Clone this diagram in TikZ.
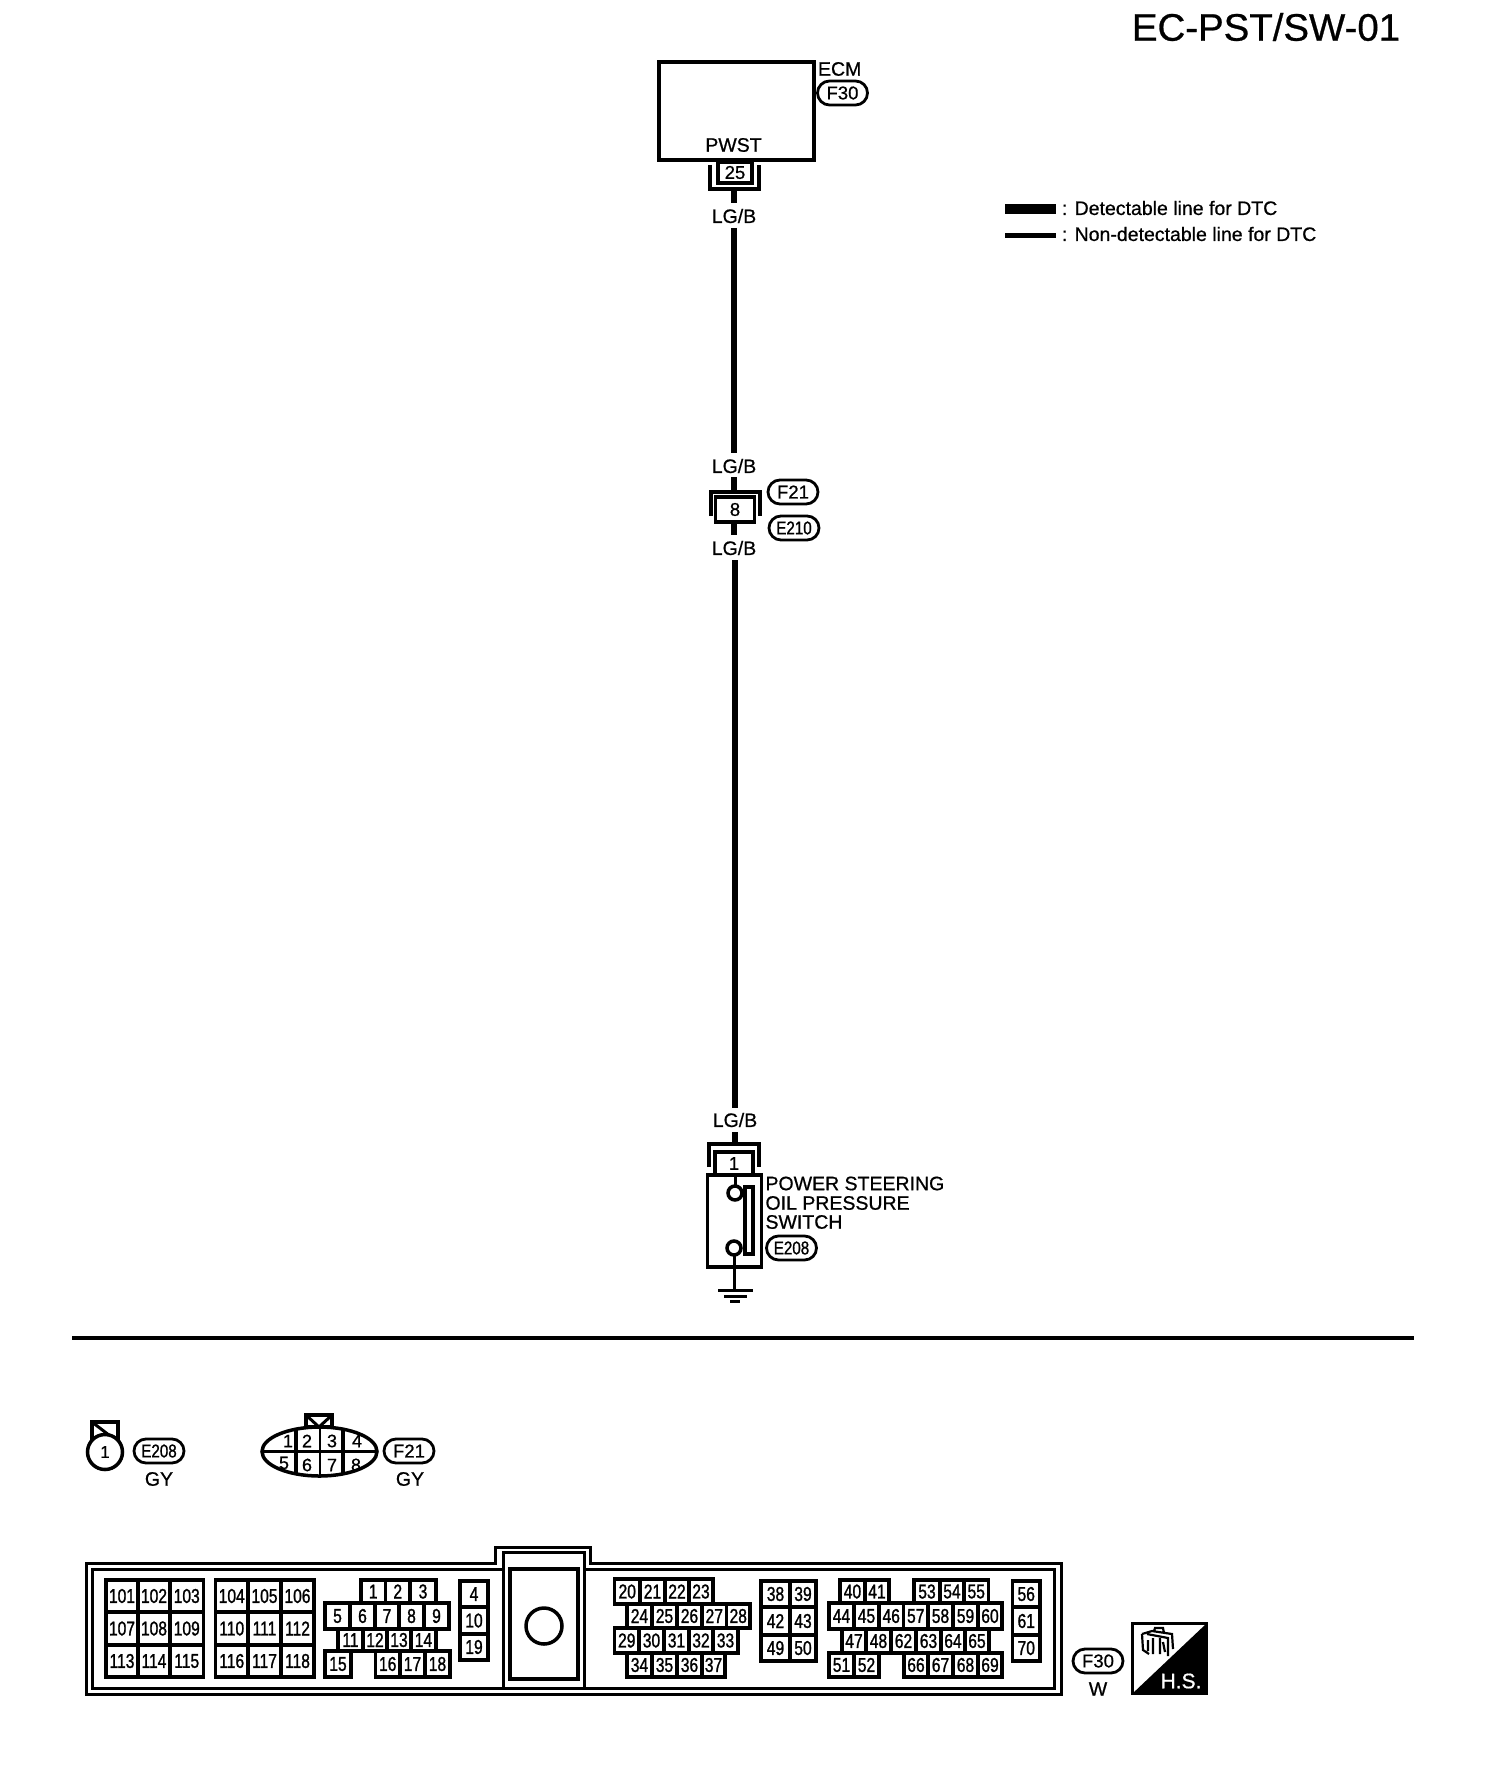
\documentclass[tikz,border=0pt]{standalone}
\usepackage{fontspec}
\usetikzlibrary{shapes.geometric}
\setmainfont{Liberation Sans}
\newfontfamily\pinfont[FakeStretch=0.78,FakeBold=1.2]{Liberation Sans}
\newfontfamily\labfont[FakeBold=0.7]{Liberation Sans}
\newfontfamily\narfont[FakeStretch=0.82,FakeBold=1]{Liberation Sans}
\newcommand{\fpx}[1]{\fontsize{\dimexpr#1pt/2\relax}{\dimexpr#1pt/2\relax}\selectfont}
\tikzset{
  lab/.style={inner sep=0pt,outer sep=0pt,font=\labfont\fpx{19.5}},
  leftlab/.style={lab,anchor=west},
  pill/.style={draw,line width=1.4pt,rounded corners=6pt,minimum width=25pt,minimum height=12pt,inner sep=0pt,outer sep=0pt,font=\labfont\fpx{18.5}},
  pillnar/.style={pill,font=\narfont\fpx{18.5}},
  pinbox/.style={draw,line width=1.75pt,inner sep=0pt,outer sep=0pt,font=\pinfont\fpx{20}},
  bigpin/.style={pinbox,font=\labfont\fpx{18.5}},
  wire/.style={line width=3pt},
  line/.style={line width=1.5pt},
  heavy/.style={line width=1.75pt},
  plainnum/.style={inner sep=0pt,outer sep=0pt,font=\labfont\fpx{18}}
}
\newcommand{\pinrow}[3]{%
  \foreach \xa/\xb/\t in {#3}{
    \node[pinbox,minimum width={(\xb-\xa)*0.5pt},minimum height={(#2-#1)*0.5pt}] (ecu\t) at ({(\xa+\xb)/2},{(#1+#2)/2}) {\t};
  }}
\begin{document}
\begin{tikzpicture}[x=0.5pt,y=-0.5pt]
\useasboundingbox (0,0) rectangle (1504,1770);
% title and legend
\node[inner sep=0pt,font=\labfont\fpx{38.4}] (title) at (1266,27) {EC-PST/SW-01};
\coordinate (legAa) at (1005,209.5); \coordinate (legAb) at (1056,209.5);
\coordinate (legBa) at (1005,235.5); \coordinate (legBb) at (1056,235.5);
\draw[line width=5pt] (legAa) -- (legAb);
\draw[line width=2.5pt] (legBa) -- (legBb);
\node[leftlab] (legAt) at (1062,208) {: Detectable line for DTC};
\node[leftlab] (legBt) at (1062,234) {: Non-detectable line for DTC};
% ECM
\node[draw,heavy,minimum width=77.5pt,minimum height=49pt,inner sep=0pt,outer sep=0pt] (ecm) at (736.5,111) {};
\node[leftlab] (ecmt) at (818,69) {ECM};
\node[pill] (f30a) at (842.5,93) {F30};
\node[lab] (pwst) at (733.5,145) {PWST};
\node[bigpin,minimum width=17pt,minimum height=10.5pt] (p25) at (735,172.5) {25};
\coordinate (b25a) at (710,165); \coordinate (b25b) at (710,189); \coordinate (b25c) at (759,189); \coordinate (b25d) at (759,165);
\draw[heavy] (b25a) -- (b25b) -- (b25c) -- (b25d);
\coordinate (w25) at (734,189);
\node[lab] (lg1) at (734,216) {LG/B};
\draw[wire] (w25) -- ++(0,14);
\coordinate (w1a) at (734,228); \coordinate (w1b) at (734,453);
\draw[wire] (w1a) -- (w1b);
% joint 8
\node[lab] (lg2) at (734,466) {LG/B};
\node[bigpin,minimum width=19.5pt,minimum height=12.5pt] (p8) at (735,509.5) {8};
\coordinate (b8a) at (711,516); \coordinate (b8b) at (711,492); \coordinate (b8c) at (760,492); \coordinate (b8d) at (760,516);
\draw[heavy] (b8a) -- (b8b) -- (b8c) -- (b8d);
\coordinate (w8t) at (734,477); \coordinate (w8b) at (734,492);
\draw[wire] (w8t) -- (w8b);
\draw[wire] (p8.south -| w8t) -- ++(0,13);
\node[pill] (f21a) at (793,492) {F21};
\node[pillnar] (e210) at (794,528) {E210};
\node[lab] (lg3) at (734,548) {LG/B};
\coordinate (w2a) at (735,560); \coordinate (w2b) at (735,1108);
\draw[wire] (w2a) -- (w2b);
% switch
\node[lab] (lg4) at (735,1120) {LG/B};
\coordinate (w3a) at (735,1132); \coordinate (w3b) at (735,1144);
\draw[wire] (w3a) -- (w3b);
\coordinate (b1a) at (709,1167); \coordinate (b1b) at (709,1144); \coordinate (b1c) at (759,1144); \coordinate (b1d) at (759,1167);
\draw[heavy] (b1a) -- (b1b) -- (b1c) -- (b1d);
\node[bigpin,minimum width=19pt,minimum height=11.5pt] (p1) at (734,1163.5) {1};
\node[draw,heavy,minimum width=27pt,minimum height=46pt,inner sep=0pt,outer sep=0pt] (sw) at (734.5,1221) {};
\node[draw,heavy,circle,minimum size=7pt,inner sep=0pt,outer sep=0pt] (c1) at (735,1193) {};
\node[draw,heavy,circle,minimum size=7pt,inner sep=0pt,outer sep=0pt] (c2) at (734,1248) {};
\node[draw,heavy,minimum width=4pt,minimum height=33.5pt,inner sep=0pt,outer sep=0pt] (bar) at (749,1220.5) {};
\draw[line] (sw.north -| c1) -- (c1);
\coordinate (gnd) at (734,1290);
\draw[line] (c2) -- (gnd);
\coordinate (g1a) at (718,1290); \coordinate (g1b) at (753,1290);
\coordinate (g2a) at (724,1296); \coordinate (g2b) at (747,1296);
\coordinate (g3a) at (730,1301.5); \coordinate (g3b) at (740,1301.5);
\draw[line] (g1a) -- (g1b); \draw[line] (g2a) -- (g2b); \draw[line] (g3a) -- (g3b);
\node[leftlab] (sw1) at (765.5,1183.5) {POWER STEERING};
\node[leftlab] (sw2) at (765.5,1203) {OIL PRESSURE};
\node[leftlab] (sw3) at (765.5,1222) {SWITCH};
\node[pillnar] (e208a) at (791.5,1248) {E208};
% divider
\coordinate (da) at (72,1338); \coordinate (db) at (1414,1338);
\draw[heavy] (da) -- (db);
% E208 face
\node[draw,heavy,minimum width=13pt,minimum height=10pt,inner sep=0pt,outer sep=0pt] (tab1) at (105,1432) {};
\draw[line] (tab1.north west) -- (tab1.south east);
\node[draw,heavy,circle,fill=white,minimum size=17.5pt,inner sep=0pt,outer sep=0pt,font=\labfont\fpx{17}] (fc1) at (105,1452) {1};
\node[pillnar] (e208b) at (159,1451) {E208};
\node[lab] (gy1) at (159,1479) {GY};
% F21 face
\node[draw,heavy,minimum width=13pt,minimum height=6pt,inner sep=0pt,outer sep=0pt] (tab2) at (319,1421) {};
\coordinate (vm) at (319,1427);
\draw[line] (tab2.north west) -- (vm) -- (tab2.north east);
\node[draw,heavy,ellipse,fill=white,minimum width=57.5pt,minimum height=24.5pt,inner sep=0pt,outer sep=0pt] (fc8) at (319.5,1451.5) {};
\draw[line] (fc8.west) -- (fc8.east);
\foreach \xx in {296,343}{ \draw[heavy] (\xx,1428) -- (\xx,1475); }
\draw[line width=0.75pt] (320,1428) -- (320,1475);
\foreach \xx/\yy/\t in {288/1441/1,307/1441/2,332/1441/3,357/1441/4,284/1463/5,307/1465/6,332/1465/7,356/1465/8}{
  \node[plainnum] (fp\t) at (\xx,\yy) {\t};
}
\node[pill] (f21b) at (409,1451) {F21};
\node[lab] (gy2) at (410,1479) {GY};
% ECM connector housing
\draw[line] (86,1563) -- (495,1563) -- (495,1547) -- (590,1547) -- (590,1563) -- (1061,1563) -- (1061,1694) -- (86,1694) -- cycle;
\draw[line] (92,1569) -- (503,1569) -- (503,1552) -- (584,1552) -- (584,1569) -- (1054,1569) -- (1054,1688) -- (92,1688) -- cycle;
\draw[line] (503,1569) -- (503,1688);
\draw[line] (584,1569) -- (584,1688);
\node[draw,heavy,minimum width=34pt,minimum height=55pt,inner sep=0pt,outer sep=0pt] (lockbox) at (544,1624) {};
\node[draw,heavy,circle,minimum size=18pt,inner sep=0pt,outer sep=0pt] (lockc) at (544,1626) {};
% pins
\pinrow{1580}{1612}{106/138/101,138/170/102,170/203.5/103}
\pinrow{1612}{1645}{106/138/107,138/170/108,170/203.5/109}
\pinrow{1645}{1677}{106/138/113,138/170/114,170/203.5/115}
\pinrow{1580}{1612}{215.5/248/104,248/281/105,281/314/106}
\pinrow{1612}{1645}{215.5/248/110,248/281/111,281/314/112}
\pinrow{1645}{1677}{215.5/248/116,248/281/117,281/314/118}
\pinrow{1580}{1603}{361/385.5/1,385.5/410/2,410/436/3}
\pinrow{1603}{1629}{325/350/5,350/375/6,375/399/7,399/424/8,424/449/9}
\pinrow{1629}{1651}{338/363/11,363/387/12,387/411/13,411/436/14}
\pinrow{1651}{1677}{325/351/15,375.5/400/16,400/425/17,425/450/18}
\pinrow{1581}{1607}{460/488/4}
\pinrow{1607}{1634}{460/488/10}
\pinrow{1634}{1660}{460/488/19}
\pinrow{1579}{1604}{614.5/640/20,640/665/21,665/689/22,689/713/23}
\pinrow{1604}{1628}{627/652/24,652/677/25,677/702/26,702/726.5/27,726.5/750/28}
\pinrow{1628}{1653}{614.5/639/29,639/664/30,664/689/31,689/713/32,713/738/33}
\pinrow{1653}{1677}{627/652/34,652/677/35,677/702/36,702/725/37}
\pinrow{1581}{1607}{761/790/38,790/816/39}
\pinrow{1607}{1635}{761/790/42,790/816/43}
\pinrow{1635}{1661}{761/790/49,790/816/50}
\pinrow{1580}{1603}{840/865/40,865/889/41,914/940/53,940/964/54,964/988.5/55}
\pinrow{1603}{1629}{829/854/44,854/879/45,879/903.5/46,903.5/928/57,928/953/58,953/978/59,978/1002/60}
\pinrow{1629}{1653}{842/866/47,866/891/48,891/916/62,916/941/63,941/965/64,965/989/65}
\pinrow{1653}{1677}{829/854/51,854/879/52,904/928/66,928/953/67,953/978/68,978/1002/69}
\pinrow{1581}{1607}{1012.5/1040/56}
\pinrow{1607}{1635}{1012.5/1040/61}
\pinrow{1635}{1661}{1012.5/1040/70}
% bottom label
\node[pill] (f30b) at (1098,1661) {F30};
\node[lab] (wl) at (1098,1689) {W};
% H.S. mark
\node[draw,heavy,minimum width=37pt,minimum height=35pt,inner sep=0pt,outer sep=0pt] (hs) at (1169.5,1658.5) {};
\fill (hs.north east) -- (hs.south east) -- (hs.south west) -- cycle;
\node[inner sep=0pt,text=white,font=\labfont\fpx{21}] (hst) at (1181,1681) {H.S.};
\draw[line width=1.1pt] (1142,1634) -- (1152,1631) -- (1172,1634) -- (1173,1649) (1142,1634) -- (1143,1650) -- (1149,1654) (1147,1634) -- (1168,1638) -- (1168,1656) (1153,1638) -- (1153,1654) (1160,1638) -- (1160,1654) (1148,1640) -- (1148,1651) (1163,1642) -- (1165,1652) (1154,1631) -- (1155,1628) -- (1163,1628) -- (1164,1633);
\end{tikzpicture}
\end{document}
